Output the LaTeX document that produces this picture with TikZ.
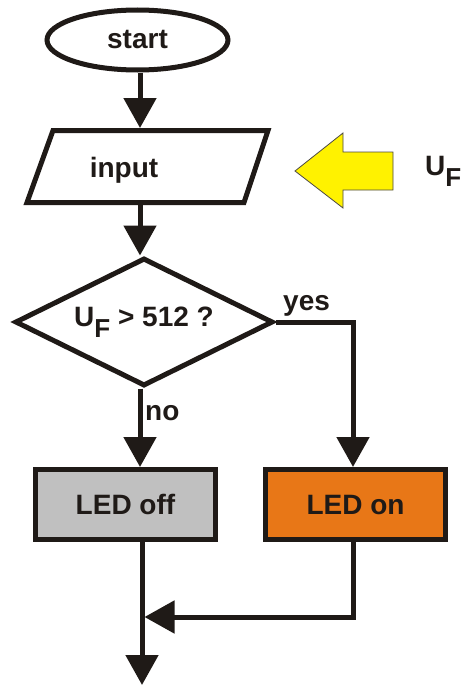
\documentclass[tikz,border=0pt]{standalone}
\usepackage{fontspec}
\setmainfont{Liberation Sans}
\usepackage{tikz}
\usetikzlibrary{shapes.geometric,arrows.meta,calc}
\definecolor{inkblack}{RGB}{31,26,23}
\definecolor{ledgray}{RGB}{192,192,192}
\definecolor{ledorange}{RGB}{232,119,23}
\definecolor{signalyellow}{RGB}{255,242,0}
\newcommand{\UF}{U\raisebox{-11pt}{\fontsize{26}{26}\selectfont F}}

\begin{document}
\begin{tikzpicture}[x=1pt,y=-1pt,
    every node/.style={font=\fontsize{28}{28}\selectfont\bfseries, text=inkblack, inner sep=0pt},
    block/.style={draw=inkblack, line width=5pt},
    flow/.style={draw=inkblack, line width=5pt, -{Triangle[width=32pt,length=30pt]}}]
          \useasboundingbox (0,0) rectangle (467,685);
          % columns of the connectors
          \coordinate (col) at (140,0);
          \coordinate (yesx) at (353,0);
          \coordinate (outx) at (142,0);
          % start
          \node[block, ellipse, minimum width=181pt, minimum height=60pt] (start) at (137.5,40) {start};
          % input
          \draw[block] (53,130.5) -- (268,130.5) -- (244,202.5) -- (27,202.5) -- cycle;
          \coordinate (in-top) at (140,128);
          \coordinate (in-bot) at (140,205);
          \node[anchor=base] (input) at (124,177) {input};
          % signal into the input
          \draw[fill=signalyellow, draw=inkblack!80, line width=0.8pt]
                (295,171) -- (343,133) -- (343,152) -- (393,152) -- (393,190) -- (343,190) -- (343,208) -- cycle;
          \node[anchor=base west] (uf) at (425,175) {\UF};
          % decision
          \node[block, diamond, aspect=2, minimum width=258pt, minimum height=128pt] (test) at (144,322) {\UF{} > 512 ?};
          % outputs
          \node[block, fill=ledgray, minimum width=180pt, minimum height=70pt] (ledoff) at (125.5,504.5) {LED off};
          \node[block, fill=ledorange, minimum width=180pt, minimum height=70pt] (ledon) at (355.5,504.5) {LED on};
          % flow
          \draw[flow] (start.south -| col) -- (in-top);
          \draw[flow] (in-bot) -- (test.north -| col);
          \draw[flow] (test.south -| col) -- (ledoff.north -| col);
          \draw[flow] (test.east) -| (ledon.north -| yesx);
          \node[anchor=base west] (no) at (145,420) {no};
          \node[anchor=base west] (yes) at (283,310) {yes};
          % join and exit
          \coordinate (merge) at (144.5,617);
          \coordinate (exit) at (142,685);
          \draw[flow] (ledon.south -| yesx) |- (merge);
          \draw[flow] (ledoff.south -| outx) -- (exit);
        \end{tikzpicture}
\end{document}
